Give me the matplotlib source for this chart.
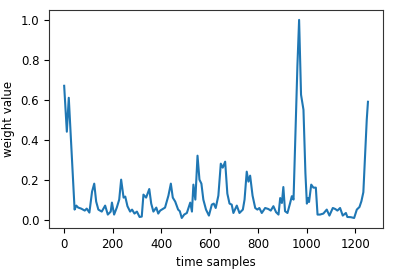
import matplotlib
matplotlib.use("Agg")
import matplotlib.pyplot as plt

samples = [0, 11, 19, 43, 50, 58, 70, 85, 93, 104, 115, 124, 132, 141, 155, 169, 180, 192, 197, 206,
           217, 227, 235, 245, 252, 261, 272, 280, 290, 300, 311, 320, 327, 338, 351, 359, 368, 380, 388, 396,
           416, 430, 440, 448, 458, 470, 477, 485, 495, 506, 520, 527, 533, 541, 550, 558, 566, 574, 585, 597,
           609, 617, 625, 636, 646, 654, 664, 673, 682, 691, 698, 712, 723, 737, 744, 753, 760, 767, 777, 788,
           797, 805, 815, 829, 842, 852, 863, 874, 884, 891, 898, 904, 911, 921, 932, 939, 946, 954, 962, 969,
           977, 987, 995, 1001, 1006, 1010, 1019, 1028, 1038, 1045, 1055, 1069, 1083, 1094, 1108, 1118, 1127, 1138, 1149, 1162,
           1168, 1182, 1196, 1207, 1218, 1226, 1234, 1241, 1248, 1253]
weights = [0.67, 0.44, 0.61, 0.05, 0.07, 0.06, 0.055, 0.045, 0.055, 0.035, 0.14, 0.18, 0.09, 0.05, 0.04, 0.07, 0.025, 0.04, 0.085, 0.025,
           0.06, 0.1, 0.2, 0.11, 0.115, 0.067, 0.04, 0.05, 0.03, 0.04, 0.013, 0.015, 0.125, 0.11, 0.153, 0.08, 0.04, 0.06, 0.03, 0.045,
           0.06, 0.12, 0.18, 0.11, 0.09, 0.05, 0.042, 0.008, 0.025, 0.033, 0.085, 0.04, 0.175, 0.1, 0.32, 0.2, 0.18, 0.1, 0.05, 0.02,
           0.075, 0.08, 0.058, 0.12, 0.28, 0.26, 0.29, 0.13, 0.08, 0.075, 0.033, 0.07, 0.033, 0.05, 0.1, 0.24, 0.19, 0.22, 0.12, 0.058,
           0.05, 0.058, 0.033, 0.058, 0.053, 0.045, 0.067, 0.037, 0.025, 0.108, 0.083, 0.163, 0.042, 0.033, 0.083, 0.117, 0.1, 0.43, 0.77, 1.0,
           0.625, 0.55, 0.233, 0.08, 0.108, 0.088, 0.175, 0.16, 0.16, 0.025, 0.025, 0.03, 0.05, 0.02, 0.058, 0.053, 0.045, 0.058, 0.02, 0.033,
           0.013, 0.012, 0.008, 0.05, 0.063, 0.092, 0.137, 0.317, 0.5, 0.59]

plt.rcParams['font.size'] = 8.5

fig = plt.figure(figsize=(3.95, 2.7), dpi=100)
ax = fig.add_axes([0.124, 0.156, 0.846, 0.807])
ax.plot(samples, weights, color='tab:blue', linewidth=1.5)
ax.set_xlabel('time samples')
ax.set_ylabel('weight value')
ax.set_xticks([0, 200, 400, 600, 800, 1000, 1200])
ax.set_yticks([0.0, 0.2, 0.4, 0.6, 0.8, 1.0])
for s in ax.spines.values():
    s.set_edgecolor('#333333')

fig.savefig('out.png', dpi=100)
